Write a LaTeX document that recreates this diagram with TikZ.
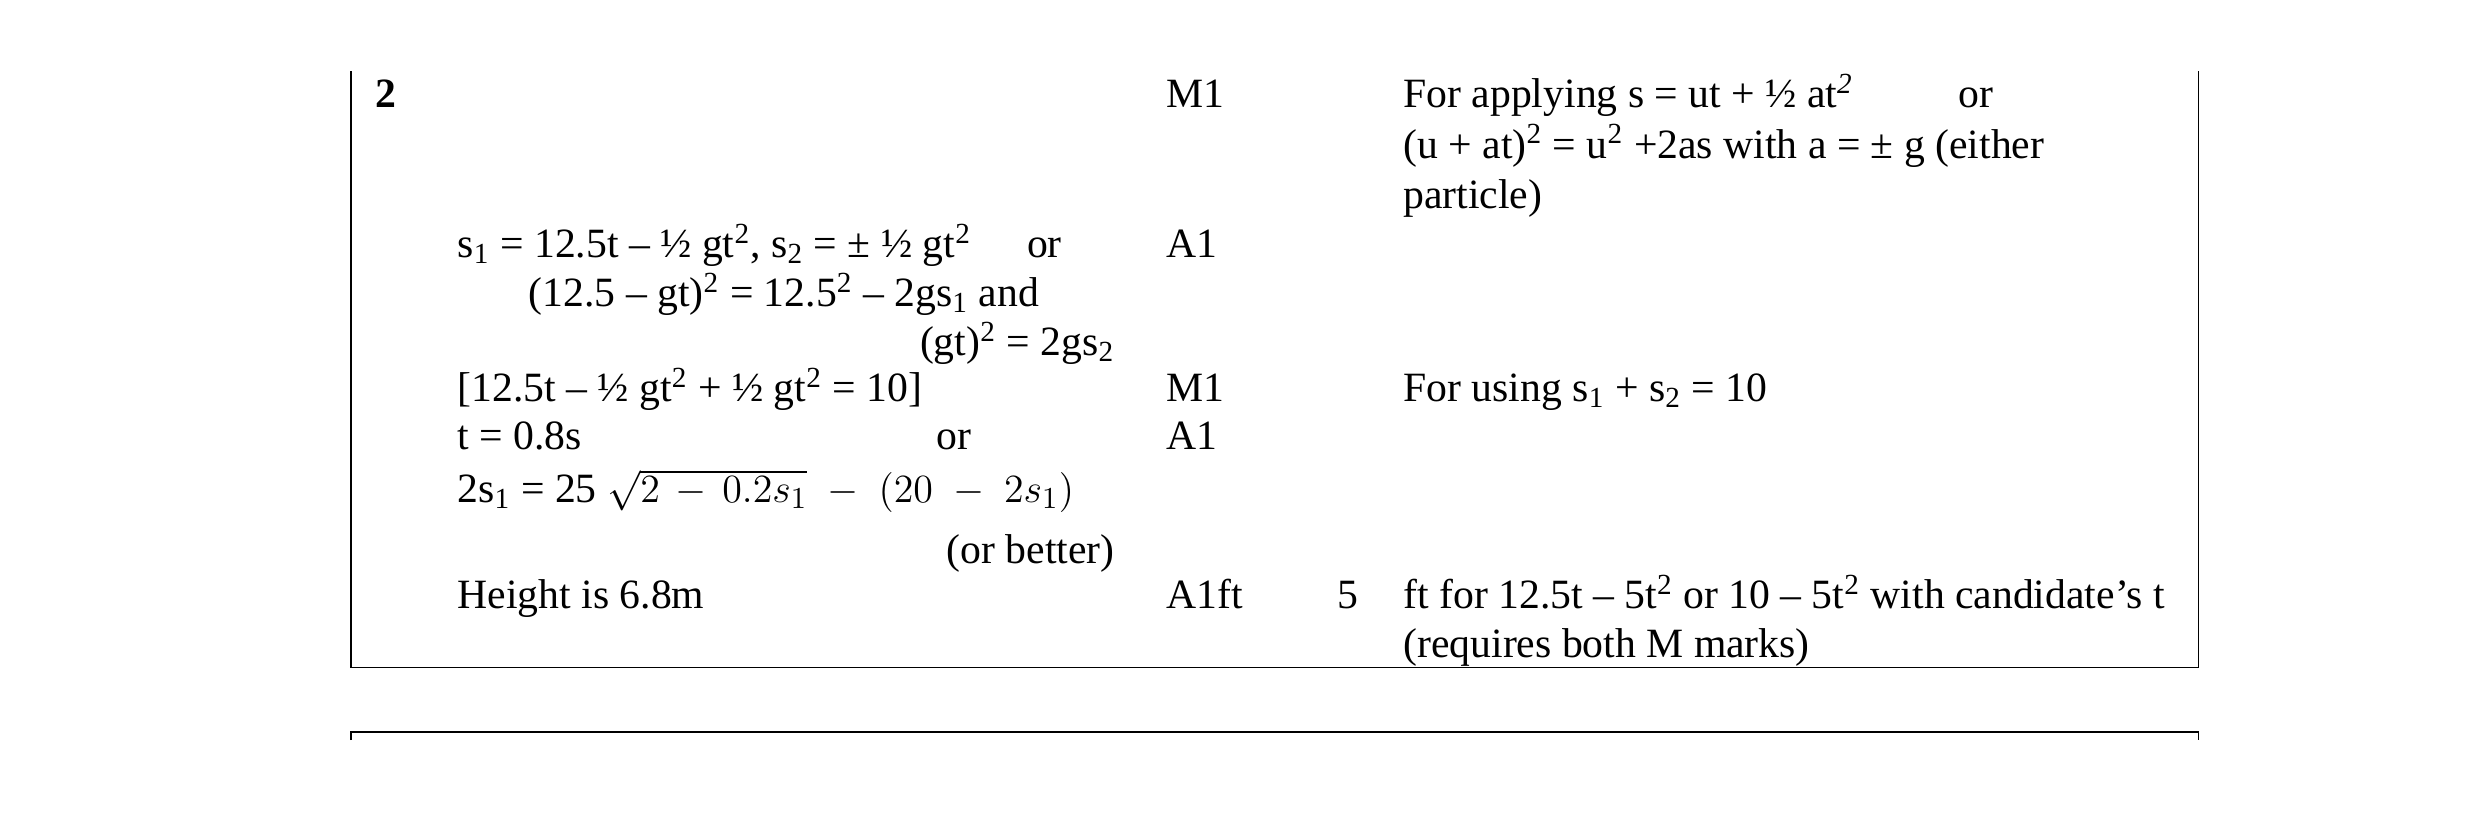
\documentclass[tikz,border=0pt]{standalone}
\usepackage{fontspec}
\setmainfont{Liberation Serif}
\usepackage{amsmath}
\newcommand{\sps}[1]{\textsuperscript{#1}}
\newcommand{\sbs}[1]{\textsubscript{#1}}

\begin{document}
\begin{tikzpicture}[x=0.02cm, y=-0.02cm,
    entry/.style ={anchor=base west, inner sep=0pt, font=\fontsize{15}{18}\selectfont},
    entryr/.style ={entry, anchor=base east},
    rule/.style ={line width=0.6pt}]
   \useasboundingbox (0,0) rectangle (1568,514);

   % frame of the question
   \coordinate (tl) at (222,45);
   \coordinate (tr) at (1390,45);
   \coordinate (bl) at (222,422);
   \coordinate (br) at (1390,422);
   \draw[rule] (tl) -- (bl) -- (br) -- (tr);
   \coordinate (nl) at (222,463);
   \coordinate (nr) at (1390,463);
   \draw[rule] ([yshift=-0.1cm]nl) -- (nl) -- (nr) -- ([yshift=-0.1cm]nr);

   % question number
   \node[entry, font=\fontsize{15}{18}\selectfont\bfseries] (q) at (237,68) {2};

   % working
   \node[entry] (w1) at (289,163) {s\sbs{1} = 12.5t – ½ gt\sps{2}, s\sbs{2} = ± ½ gt\sps{2}};
   \node[entry] (o1) at (649,163) {or};
   \node[entry] (w2) at (334,194) {(12.5 – gt)\sps{2} = 12.5\sps{2} – 2gs\sbs{1} and};
   \node[entryr] (w3) at (705,225) {(gt)\sps{2} = 2gs\sbs{2}};
   \node[entry] (w4) at (289,254) {[12.5t – ½ gt\sps{2} + ½ gt\sps{2} = 10]};
   \node[entry] (w5) at (289,284) {t = 0.8s};
   \node[entry] (o2) at (592,284) {or};
   \node[entry] (w6) at (289,318) {2s\sbs{1} = 25 $\sqrt{2\,-\,0.2s_1}\;-\;(20\;-\;2s_1)$};
   \node[entryr] (w7) at (705,356) {(or better)};
   \node[entry] (w8) at (289,385) {Height is 6.8m};

   % marks
   \node[entry] (m1) at (737,68) {M1};
   \node[entry] (m2) at (737,163) {A1};
   \node[entry] (m3) at (737,254) {M1};
   \node[entry] (m4) at (737,284) {A1};
   \node[entry] (m5) at (737,385) {A1ft};
   \node[entry] (tot) at (845,385) {5};

   % guidance
   \node[entry] (g1) at (887,68) {For applying s = ut + ½ at\sps{\textit{2}}};
   \node[entry] (o3) at (1238,68) {or};
   \node[entry] (g2) at (887,100) {(u + at)\sps{2} = u\sps{2} +2as with a = ± g (either};
   \node[entry] (g3) at (887,132) {particle)};
   \node[entry] (g4) at (887,254) {For using s\sbs{1} + s\sbs{2} = 10};
   \node[entry] (g5) at (887,385) {ft for 12.5t – 5t\sps{2} or 10 – 5t\sps{2} with candidate’s t};
   \node[entry] (g6) at (887,416) {(requires both M marks)};
 \end{tikzpicture}
\end{document}
